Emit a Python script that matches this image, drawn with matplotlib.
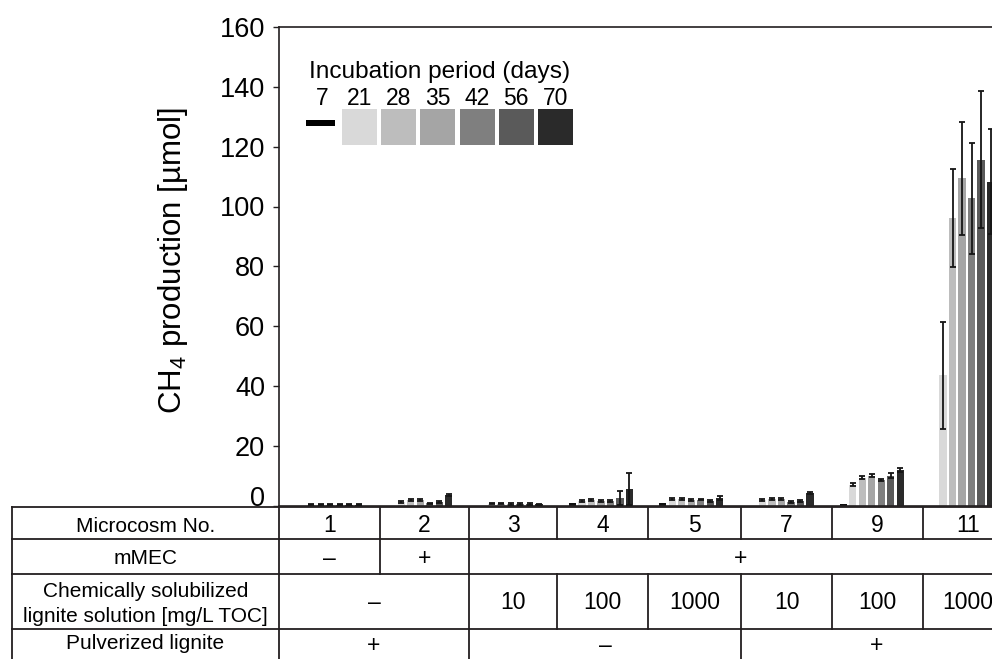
import matplotlib
matplotlib.use('Agg')
import matplotlib.pyplot as plt
from matplotlib import font_manager as fm
from matplotlib.lines import Line2D
from matplotlib.patches import Rectangle
from matplotlib.transforms import ScaledTranslation
import numpy as np

# ---------------- data ----------------
microcosms = ['1', '2', '3', '4', '5', '7', '9', '11']
days = ['7', '21', '28', '35', '42', '56', '70']

ch4_d7 = [0.0, 0.0, 0.0, 1.0, 0.7, 0.0, 0.6, 0.0]
ch4_d21 = [0.3, 1.3, 0.6, 1.5, 2.1, 1.8, 7.0, 43.5]
ch4_d28 = [0.3, 1.8, 0.6, 1.8, 2.3, 2.2, 9.3, 96.2]
ch4_d35 = [0.3, 1.8, 0.5, 1.4, 1.8, 2.2, 10.0, 109.4]
ch4_d42 = [0.3, 0.8, 0.5, 1.6, 2.0, 1.3, 8.6, 102.7]
ch4_d56 = [0.3, 1.3, 0.5, 2.4, 1.5, 1.6, 10.0, 115.7]
ch4_d70 = [0.3, 3.6, 0.4, 5.5, 2.4, 4.2, 11.8, 108.3]

err_d7 = [0.0, 0.0, 0.0, 0.0, 0.0, 0.0, 0.0, 0.0]
err_d21 = [0.1, 0.3, 0.2, 0.3, 0.3, 0.3, 0.5, 18.0]
err_d28 = [0.1, 0.3, 0.2, 0.3, 0.3, 0.3, 0.5, 16.5]
err_d35 = [0.1, 0.3, 0.2, 0.3, 0.3, 0.3, 0.5, 19.0]
err_d42 = [0.1, 0.2, 0.2, 0.3, 0.3, 0.3, 0.4, 18.5]
err_d56 = [0.1, 0.3, 0.2, 2.3, 0.3, 0.3, 0.9, 23.0]
err_d70 = [0.1, 0.4, 0.2, 5.3, 0.7, 0.3, 0.7, 17.5]

yticks = [0, 20, 40, 60, 80, 100, 120, 140, 160]

# table contents: (first column, last column exclusive, text)
mmec_spans = [(0, 1, '–'), (1, 2, '+'), (2, 8, '+')]
solution_spans = [(0, 2, '–'), (2, 3, '10'), (3, 4, '100'), (4, 5, '1000'),
                  (5, 6, '10'), (6, 7, '100'), (7, 8, '1000')]
pulverized_spans = [(0, 2, '+'), (2, 5, '–'), (5, 8, '+')]
row_labels = ['Microcosm No.', 'mMEC',
              'Chemically solubilized\nlignite solution [mg/L TOC]',
              'Pulverized lignite']

series = [ch4_d7, ch4_d21, ch4_d28, ch4_d35, ch4_d42, ch4_d56, ch4_d70]
errors = [err_d7, err_d21, err_d28, err_d35, err_d42, err_d56, err_d70]
colors = ['#111111', '#d9d9d9', '#bdbdbd', '#a5a5a5', '#7f7f7f', '#5a5a5a', '#2a2a2a']

# ---------------- fonts ----------------
names = {f.name for f in fm.fontManager.ttflist}
if 'Liberation Sans Narrow' in names:
    CF = 'Liberation Sans Narrow'
    tick_fs, title_fs, ylab_fs = 23.5, 21.4, 27
else:
    CF = 'Liberation Sans'
    tick_fs, title_fs, ylab_fs = 19.5, 17.6, 22.5
TF = 'Liberation Sans'
plt.rcParams['font.family'] = [TF, 'DejaVu Sans']
plt.rcParams['mathtext.fontset'] = 'custom'
plt.rcParams['mathtext.rm'] = CF
plt.rcParams['mathtext.it'] = CF

INK = '#231f20'
W, H = 992, 659
fig = plt.figure(figsize=(W / 100, H / 100), dpi=100)


def fx(x):
    return x / W


def fy(y):
    return 1 - y / H


# axes: spine left at x=279 px, y=0 at 505.5 px, y=160 at 27.1 px
ax_left, ax_right, ax_top, ax_bot = 279, 1013, 27.1, 505.5
ax = fig.add_axes([fx(ax_left), fy(ax_bot), (ax_right - ax_left) / W,
                   (ax_bot - ax_top) / H])
ax.set_xlim(-0.565, 7.564)
ax.set_ylim(0, 160)

n_days = len(days)
step = 0.1052
width = 0.081
xg = np.arange(len(microcosms))
for k in range(n_days):
    xs = xg + (k - (n_days - 1) / 2) * step
    vals = np.array(series[k])
    errs = np.array(errors[k])
    ax.bar(xs, vals, width=width, color=colors[k], linewidth=0, zorder=2)
    m = errs > 0
    if m.any():
        ax.errorbar(xs[m], vals[m], yerr=errs[m], fmt='none', ecolor='#151515',
                    elinewidth=1.3, capsize=2.2, capthick=1.3, zorder=3)

ax.set_xticks([])
ax.set_yticks(yticks)
ax.set_yticklabels([str(t) for t in yticks], fontsize=tick_fs, family=CF)
ax.tick_params(axis='y', direction='out', length=4, width=1, color=INK, pad=6)
zero_lbl = ax.get_yticklabels()[0]
zero_lbl.set_transform(zero_lbl.get_transform() +
                       ScaledTranslation(0, 0.09, fig.dpi_scale_trans))
for s in ['left', 'top', 'bottom', 'right']:
    ax.spines[s].set_color(INK)
    ax.spines[s].set_linewidth(1.2)

ax.set_ylabel(r'CH$_{4}$ production [µmol]', fontsize=ylab_fs, family=CF)
ax.yaxis.set_label_coords((190 - ax_left) / (ax_right - ax_left),
                          (ax_bot - 260) / (ax_bot - ax_top))

# ---------------- legend ----------------
fig.text(fx(439.5), fy(78), 'Incubation period (days)', ha='center',
         va='baseline', fontsize=title_fs, family=CF)
for k in range(n_days):
    cx = 320.3 + 39.2 * k
    fig.text(fx(cx + (2 if k == 0 else 0)), fy(105), days[k], ha='center',
             va='baseline', fontsize=16.5, family=TF)
    if k == 0:
        fig.add_artist(Rectangle((fx(cx - 14.5), fy(126)), 29 / W, 6 / H,
                                 transform=fig.transFigure, color='black', lw=0))
    else:
        fig.add_artist(Rectangle((fx(cx - 17.5), fy(145)), 35 / W, 36 / H,
                                 transform=fig.transFigure, color=colors[k], lw=0))

# ---------------- table ----------------
col_edges = [279, 380, 469, 557, 648, 741, 832, 923, 1013]
row_edges = [507, 539, 574, 629, 661]
tab_left = 12


def hline(y, x0=tab_left, x1=W + 30):
    fig.add_artist(Line2D([fx(x0), fx(x1)], [fy(y), fy(y)],
                          transform=fig.transFigure, color=INK, lw=1.3))


def vline(x, r):
    fig.add_artist(Line2D([fx(x), fx(x)], [fy(row_edges[r]), fy(row_edges[r + 1])],
                          transform=fig.transFigure, color=INK, lw=1.3))


for y in row_edges[:-1]:
    hline(y)

label_baselines = [532, 564, None, 649]
for r in range(4):
    vline(tab_left, r)
    vline(col_edges[0], r)
    cx = (tab_left + col_edges[0]) / 2
    if r == 2:
        fig.text(fx(cx), fy(597), 'Chemically solubilized', ha='center',
                 va='baseline', fontsize=15, family=TF)
        fig.text(fx(cx), fy(621.5), 'lignite solution [mg/L TOC]', ha='center',
                 va='baseline', fontsize=15, family=TF)
    else:
        fig.text(fx(cx), fy(label_baselines[r]), row_labels[r], ha='center',
                 va='baseline', fontsize=15, family=TF)

micro_spans = [(i, i + 1, m) for i, m in enumerate(microcosms)]
all_spans = [micro_spans, mmec_spans, solution_spans, pulverized_spans]
cell_baselines = [532, 565, 609, 652]
for r, spans in enumerate(all_spans):
    for (a, b, txt) in spans:
        x0, x1 = col_edges[a], col_edges[b]
        vline(x1, r)
        fig.text(fx((x0 + x1) / 2), fy(cell_baselines[r]), txt, ha='center',
                 va='baseline', fontsize=16.5, family=TF)

fig.savefig('out.png', dpi=100)
